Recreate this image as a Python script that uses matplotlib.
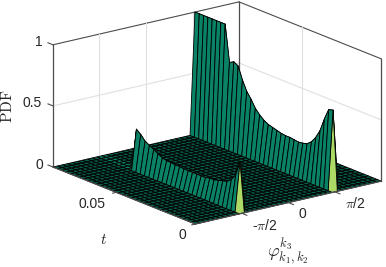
import numpy as np
import matplotlib
matplotlib.use("Agg")
import matplotlib.pyplot as plt
from mpl_toolkits.mplot3d import proj3d

plt.rcParams['font.family'] = ['Liberation Sans', 'DejaVu Sans']
plt.rcParams['mathtext.fontset'] = 'cm'

W, H = 386, 267

t_max = 0.09
n_t = 33
n_phi = 38

# ridge heights, one value per t row
ridge_right = [0, .65, .64, .55, .44, .37, .32, .29, .28, .275, .28, .285, .285, .29, .30, .31, .32,
               .34, .37, .41, .47, .52, .60, .70, .72, .70, 1, 1, 1, 1, 1, 1, 1, 1]
ridge_left = [0, .40, .28, .23, .20, .19, .18, .17, .17, .16, .16, .16, .16, .16, .16, .165, .165,
              .17, .17, .18, .20, .22, .24, .26, .30, .33, 0, 0, 0, 0, 0, 0, 0, 0]

z_ticks = [0, 0.5, 1]
z_labels = ['0', '0.5', '1']
t_ticks = [0, 0.05]
phi_ticks = [-np.pi / 2, 0, np.pi / 2]

teal = (0.04, 0.51, 0.40, 1)
ground = (0.02, 0.36, 0.28, 1)
light = (0.68, 0.85, 0.40, 1)
box_col = '0.3'
grid_col = '0.88'


def to_px(ax, x, y, z):
    px, py, _ = proj3d.proj_transform(x, y, z, ax.get_proj())
    return ax.transData.transform((px, py))


def main():
    fig = plt.figure(figsize=(W / 100, H / 100), dpi=100)
    ax = fig.add_axes([0, 0, 1, 1], projection='3d', computed_zorder=False)
    ax.set_proj_type('ortho')
    ax.view_init(elev=17.7, azim=232.8)
    ax.set_box_aspect((233, 235, 128))
    ax.set_xlim(-np.pi, np.pi)
    ax.set_ylim(0, t_max)
    ax.set_zlim(0, 1)
    ax.set_axis_off()

    # fit the box onto the reference corners
    fig.canvas.draw()
    left = to_px(ax, -np.pi, t_max, 0)
    right = to_px(ax, np.pi, t_max, 0)
    size = (239 - 53) / (right[0] - left[0]) * min(W, H)
    ax.set_position([0, 0, size / W, size / H])
    fig.canvas.draw()
    p = to_px(ax, -np.pi, t_max, 0)
    ax.set_position([(53 - p[0]) / W, (H - 167 - p[1]) / H, size / W, size / H])
    fig.canvas.draw()

    phi = np.linspace(-np.pi, np.pi, n_phi + 1)
    t = np.linspace(0, t_max, n_t + 1)
    P, T = np.meshgrid(phi, t)
    Z = np.zeros(P.shape)
    k_left = 10
    k_right = 29
    Z[:, k_left] = ridge_left
    Z[:, k_right] = ridge_right

    colors = np.empty(Z.shape + (4,))
    colors[:, :] = ground
    colors[:, k_left - 1:k_left + 1] = teal
    colors[:, k_right - 1:k_right + 1] = teal
    colors[0, k_left - 1] = light
    colors[0, k_right - 1] = light

    # walls and grid behind the surface
    ax.plot([-np.pi, np.pi], [t_max, t_max], [0.5, 0.5], color=grid_col, lw=0.8, zorder=1)
    ax.plot([np.pi, np.pi], [0, t_max], [0.5, 0.5], color=grid_col, lw=0.8, zorder=1)
    ax.plot([-np.pi, np.pi], [t_max, t_max], [1, 1], color=box_col, lw=0.8, zorder=1)
    ax.plot([np.pi, np.pi], [0, t_max], [1, 1], color=box_col, lw=0.8, zorder=1)
    for ph in phi_ticks:
        ax.plot([ph, ph], [t_max, t_max], [0, 1], color=grid_col, lw=0.8, zorder=1)
    for tk in t_ticks[1:]:
        ax.plot([np.pi, np.pi], [tk, tk], [0, 1], color=grid_col, lw=0.8, zorder=1)
    ax.plot([-np.pi, -np.pi], [t_max, t_max], [0, 1], color=box_col, lw=0.9, zorder=1)
    ax.plot([np.pi, np.pi], [t_max, t_max], [0, 1], color=box_col, lw=0.9, zorder=1)
    ax.plot([np.pi, np.pi], [0, 0], [0, 1], color=box_col, lw=0.9, zorder=1)

    ax.plot_surface(P, T, Z, rstride=1, cstride=1, facecolors=colors, edgecolor='black',
                    linewidth=0.6, shade=False, antialiased=True, zorder=2)

    # front edges and ticks
    ax.plot([-np.pi, -np.pi], [0, t_max], [0, 0], color=box_col, lw=0.9, zorder=3)
    ax.plot([-np.pi, np.pi], [0, 0], [0, 0], color=box_col, lw=0.9, zorder=3)
    for z in z_ticks:
        ax.plot([-np.pi, -np.pi], [t_max, t_max * 1.035], [z, z], color=box_col, lw=0.8, zorder=3)
    for tk in t_ticks:
        ax.plot([-np.pi, -np.pi - 0.12], [tk, tk], [0, 0], color=box_col, lw=0.8, zorder=3)
    for ph in phi_ticks:
        ax.plot([ph, ph], [0, -t_max * 0.035], [0, 0], color=box_col, lw=0.8, zorder=3)

    def label(x, y, s, size=10, **kw):
        fig.text(x / W, 1 - y / H, s, ha='center', va='center', fontsize=size, color='0.15', **kw)

    label(39, 42, z_labels[2])
    label(32, 103, z_labels[1])
    label(39, 165, z_labels[0])
    label(92, 204, '0.05')
    label(182, 235, '0')
    label(265, 225, r'-$\pi$/2')
    label(302, 214, '0')
    label(355, 203, r'$\pi$/2')
    label(8, 106, r'$\mathrm{PDF}$', size=11, rotation=90)
    label(104, 240, r'$t$', size=11)
    label(288, 252, r'$\varphi_{k_1,k_2}^{k_3}$', size=13)

    fig.savefig('out.png', dpi=100)


if __name__ == "__main__":
    main()
